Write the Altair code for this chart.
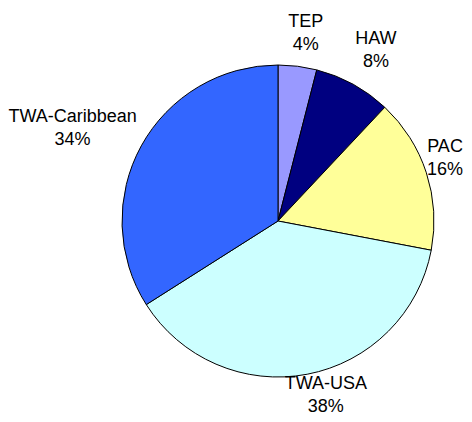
import altair as alt
import pandas as pd

categories = ["TEP", "HAW", "PAC", "TWA-USA", "TWA-Caribbean"]
shares = [4, 8, 16, 38, 34]
colors = ["#9999FF", "#000080", "#FFFF99", "#CCFFFF", "#3366FF"]

df = pd.DataFrame({"category": categories, "share": shares})

CX, CY, R = 270, 213, 156

# label placement styling: (radius, dx, dy)
label_pos = {
    "TEP": (190, 4, 1),
    "HAW": (195, 4, 0),
    "PAC": (183, -7, -6),
    "TWA-USA": (186, 13, -8),
    "TWA-Caribbean": (215, -17, 11),
}

base = alt.Chart(df).transform_window(
    idx="row_number()"
).transform_window(
    cum="sum(share)", sort=[alt.SortField("idx")], frame=[None, 0]
).transform_joinaggregate(
    total="sum(share)"
).transform_calculate(
    start="(datum.cum - datum.share) / datum.total",
    end="datum.cum / datum.total",
    mid="(datum.cum - datum.share / 2) / datum.total",
    label="datum.category + '\\n' + datum.share + '%'",
)

tscale = alt.Scale(domain=[0, 1])

pie = base.mark_arc(
    x=CX, y=CY, outerRadius=R, stroke="black", strokeWidth=1
).encode(
    theta=alt.Theta("start:Q", scale=tscale),
    theta2="end:Q",
    color=alt.Color("category:N", scale=alt.Scale(domain=categories, range=colors), legend=None),
)

layers = [pie]
for cat in categories:
    r, dx, dy = label_pos[cat]
    layers.append(
        base.mark_text(
            x=CX, y=CY, radius=r, dx=dx, dy=dy - 11.5,
            font="Liberation Sans", fontSize=18, lineBreak="\n", lineHeight=23,
            align="center", baseline="middle", color="black",
        ).encode(
            theta=alt.Theta("mid:Q", scale=tscale),
            text="label:N",
        ).transform_filter(alt.datum.category == cat)
    )

chart = alt.layer(*layers).properties(
    width=456, height=406, padding=0,
    autosize=alt.AutoSizeParams(type="none"),
).configure_view(stroke=None)

chart.save("out.html", embed_options={"renderer": "svg", "actions": False})
